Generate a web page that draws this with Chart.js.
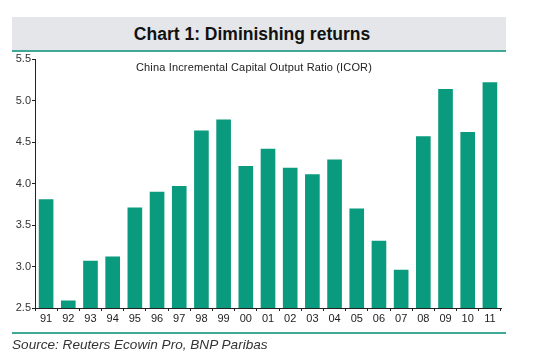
<!DOCTYPE html>
<html>
<head>
<meta charset="utf-8">
<script src="https://cdn.jsdelivr.net/npm/chart.js@4.4.0/dist/chart.umd.min.js"></script>
<style>
  html, body { margin: 0; padding: 0; background: #fff; }
  #wrap { position: relative; width: 541px; height: 364px; overflow: hidden; font-family: "Liberation Sans", Arial, sans-serif; }
  #band { position: absolute; left: 12px; top: 17px; width: 494px; height: 33px; background: #e4e6ea;
          border-bottom: 2px solid #3fa897; text-align: center; line-height: 34px; box-sizing: content-box;
          padding-right: 14px; width: 480px;
          font-size: 17.5px; font-weight: bold; color: #111; }
  #rule { position: absolute; left: 12px; top: 332px; width: 494px; height: 2px; background: #3fa897; }
  #source { position: absolute; left: 12px; top: 337px; font-size: 13.6px; font-style: italic; color: #333; }
  canvas { position: absolute; left: 0; top: 0; }
</style>
</head>
<body>
<div id="wrap">
  <div id="band">Chart 1: Diminishing returns</div>
  <canvas id="chart" width="541" height="364"></canvas>
  <div id="rule"></div>
  <div id="source">Source: Reuters Ecowin Pro, BNP Paribas</div>
</div>
<script>
// China ICOR, by year
const years = ['91','92','93','94','95','96','97','98','99','00','01','02','03','04','05','06','07','08','09','10','11'];
const icor = [3.81, 2.59, 3.07, 3.12, 3.71, 3.90, 3.97, 4.64, 4.77, 4.21, 4.42, 4.19, 4.11, 4.29, 3.70, 3.31, 2.96, 4.57, 5.14, 4.62, 5.22];
const subtitle = 'China Incremental Capital Output Ratio (ICOR)';

// draws the small caption inside the plot area
const subtitlePlugin = {
  id: 'subtitleInside',
  afterDraw(chart) {
    const ctx = chart.ctx;
    ctx.save();
    ctx.font = '11px "Liberation Sans", Arial, sans-serif';
    ctx.letterSpacing = '0.15px';
    ctx.fillStyle = '#222';
    ctx.textAlign = 'center';
    ctx.textBaseline = 'middle';
    ctx.fillText(subtitle, 254, 68);
    ctx.restore();
  }
};

new Chart(document.getElementById('chart'), {
  type: 'bar',
  data: {
    labels: years,
    datasets: [{
      data: icor,
      backgroundColor: '#0a9a7d',
      borderWidth: 0,
      barPercentage: 0.66,
      categoryPercentage: 1.0
    }]
  },
  options: {
    responsive: false,
    animation: false,
    layout: { padding: { left: 0, top: 59, right: 40, bottom: 36 } },
    plugins: { legend: { display: false }, tooltip: { enabled: false } },
    scales: {
      x: {
        grid: { display: true, drawOnChartArea: false, offset: true, tickLength: 3, color: '#222' },
        border: { display: true, color: '#222', width: 1 },
        ticks: { color: '#222', font: { family: '"Liberation Sans", Arial', size: 11 }, padding: 1, maxRotation: 0, autoSkip: false },
        afterFit(scale) { scale.height = 20; }
      },
      y: {
        min: 2.5,
        max: 5.5,
        grid: { display: true, drawOnChartArea: false, tickLength: 3, color: '#222' },
        border: { display: true, color: '#222', width: 1 },
        ticks: {
          stepSize: 0.5,
          color: '#333',
          padding: 1,
          font: { family: '"Liberation Sans", Arial', size: 11 },
          callback: v => Number(v).toFixed(1)
        },
        afterFit(scale) { scale.width = 35; }
      }
    }
  },
  plugins: [subtitlePlugin]
});
</script>
</body>
</html>
